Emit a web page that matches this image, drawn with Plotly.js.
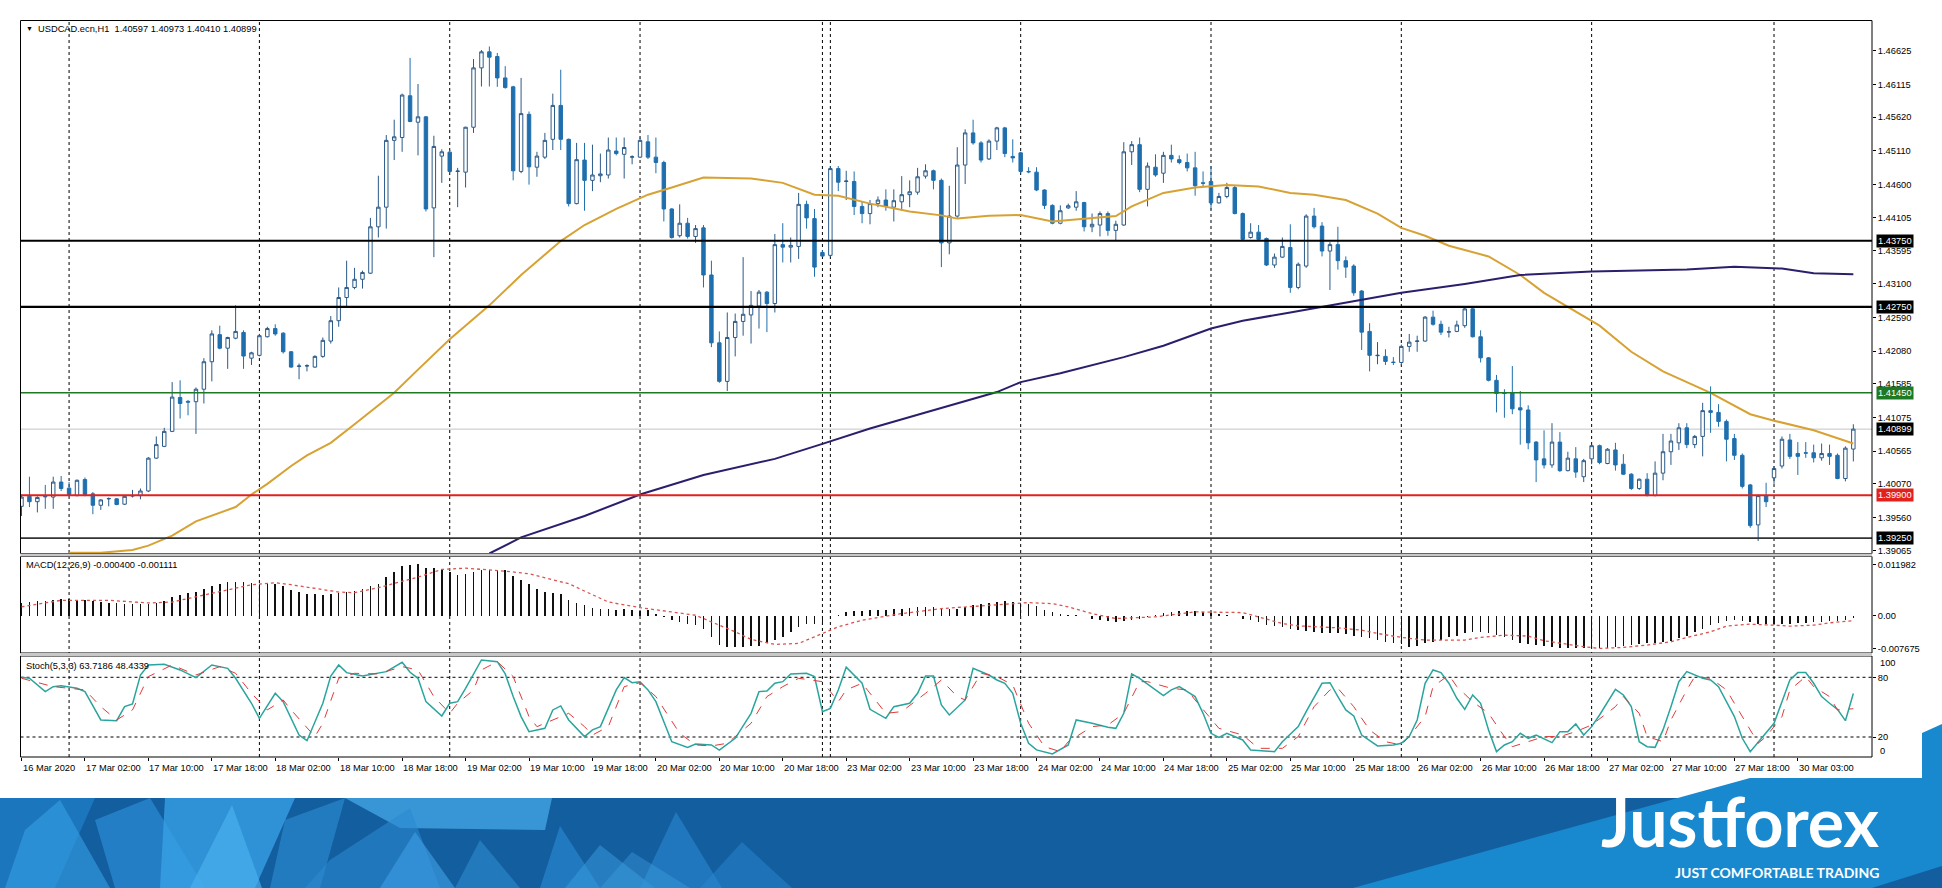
<!DOCTYPE html>
<html><head><meta charset="utf-8">
<script src="https://cdn.plot.ly/plotly-3.0.1.min.js"></script>
<style>html,body{margin:0;padding:0;background:#fff;}#chart{width:1942px;height:888px;}</style>
</head><body><div id="chart"></div>
<script>
// ---------------- DATA ----------------
const symbolHeader = "USDCAD.ecn,H1  1.40597 1.40973 1.40410 1.40899";
const timeLabels = ["16 Mar 2020","17 Mar 02:00","17 Mar 10:00","17 Mar 18:00","18 Mar 02:00","18 Mar 10:00","18 Mar 18:00","19 Mar 02:00","19 Mar 10:00","19 Mar 18:00","20 Mar 02:00","20 Mar 10:00","20 Mar 18:00","23 Mar 02:00","23 Mar 10:00","23 Mar 18:00","24 Mar 02:00","24 Mar 10:00","24 Mar 18:00","25 Mar 02:00","25 Mar 10:00","25 Mar 18:00","26 Mar 02:00","26 Mar 10:00","26 Mar 18:00","27 Mar 02:00","27 Mar 10:00","27 Mar 18:00","30 Mar 03:00"];
const labelStep = 8;
const daySepIdx = [6,30,54,78,101,102,126,150,174,198,221];

const open = [
1.39731,1.39882,1.39801,1.39882,1.39871,1.40098,1.40006,1.39893,1.40136,1.39920,
1.39747,1.39844,1.39844,1.39763,1.39887,1.39893,1.39963,1.40460,1.40638,1.40865,
1.41378,1.41319,1.41314,1.41503,1.41919,1.42329,1.42124,1.42275,1.42362,1.41973,
1.42016,1.42297,1.42421,1.42351,1.42070,1.41848,1.41854,1.41838,1.42000,1.42232,
1.42540,1.42891,1.43043,1.43167,1.43259,1.43961,1.44258,1.45269,1.45312,1.45944,
1.45544,1.45625,1.44247,1.45031,1.45091,1.44799,1.44788,1.45468,1.46366,1.46609,
1.46538,1.46214,1.46079,1.44799,1.45663,1.44863,1.45015,1.45285,1.45798,1.45285,
1.44312,1.44971,1.44664,1.44734,1.44745,1.45107,1.45058,1.45015,1.45015,1.45247,
1.45015,1.44934,1.44231,1.43826,1.44015,1.43815,1.43945,1.43232,1.42205,1.41622,
1.42286,1.42529,1.42627,1.42762,1.42972,1.42800,1.43691,1.43653,1.43664,1.44301,
1.44085,1.43572,1.43529,1.44842,1.44647,1.44647,1.44269,1.44161,1.44312,1.44366,
1.44258,1.44339,1.44447,1.44485,1.44728,1.44809,1.44664,1.43718,1.44123,1.44896,
1.45382,1.45231,1.44988,1.45258,1.45458,1.45026,1.45080,1.44799,1.44788,1.44518,
1.44285,1.44015,1.44247,1.44258,1.44328,1.43961,1.43988,1.44161,1.43907,1.43988,
1.45096,1.45204,1.44528,1.44863,1.44772,1.45042,1.44977,1.44934,1.44853,1.44626,
1.44647,1.44323,1.44420,1.44555,1.44161,1.43799,1.43880,1.43783,1.43383,1.43502,
1.43648,1.43043,1.43367,1.44123,1.43972,1.43594,1.43691,1.43448,1.43367,1.42989,
1.42378,1.42011,1.42000,1.41913,1.41908,1.42151,1.42227,1.42232,1.42594,1.42486,
1.42367,1.42378,1.42465,1.42719,1.42297,1.41978,1.41638,1.41443,1.41449,1.41222,
1.41189,1.40703,1.40449,1.40357,1.40703,1.40271,1.40449,1.40179,1.40449,1.40649,
1.40379,1.40584,1.40368,1.40217,1.40001,1.40141,1.39893,1.40233,1.40557,1.40692,
1.40919,1.40665,1.40789,1.41179,1.41152,1.41016,1.40757,1.40503,1.40055,1.39450,
1.39893,1.40163,1.40341,1.40735,1.40531,1.40541,1.40541,1.40465,1.40531,1.40503,
1.40152,1.40597];
const high = [
1.39909,1.40179,1.39882,1.40055,1.40179,1.40190,1.40098,1.40136,1.40168,1.39947,
1.39838,1.39865,1.39855,1.39893,1.39979,1.40001,1.40476,1.40789,1.40919,1.41611,
1.41638,1.41341,1.41530,1.41973,1.42394,1.42465,1.42297,1.42772,1.42394,1.42070,
1.42340,1.42448,1.42486,1.42367,1.42081,1.41892,1.41881,1.42016,1.42286,1.42610,
1.43043,1.43448,1.43340,1.43297,1.44096,1.44734,1.45350,1.45582,1.45976,1.46517,
1.46122,1.45636,1.45339,1.45134,1.45123,1.44853,1.45474,1.46501,1.46636,1.46690,
1.46592,1.46392,1.46095,1.46214,1.45706,1.45096,1.45382,1.45976,1.46338,1.45296,
1.45231,1.45231,1.45204,1.45069,1.45312,1.45312,1.45312,1.45042,1.45312,1.45350,
1.45312,1.44961,1.44242,1.44301,1.44096,1.43988,1.43988,1.43448,1.42378,1.42665,
1.42648,1.43502,1.42989,1.43005,1.42989,1.43853,1.44015,1.43799,1.44474,1.44356,
1.44231,1.43610,1.44880,1.44880,1.44809,1.44799,1.44339,1.44366,1.44420,1.44528,
1.44528,1.44728,1.44664,1.44853,1.44907,1.44826,1.44691,1.44582,1.45166,1.45436,
1.45582,1.45258,1.45285,1.45474,1.45474,1.45285,1.45096,1.44863,1.44863,1.44528,
1.44301,1.44285,1.44312,1.44501,1.44339,1.44161,1.44193,1.44193,1.44053,1.45242,
1.45258,1.45312,1.44934,1.45058,1.45096,1.45204,1.45042,1.45069,1.45096,1.44799,
1.44880,1.44474,1.44626,1.44582,1.44177,1.44015,1.43988,1.43799,1.43556,1.43799,
1.43999,1.43421,1.44150,1.44247,1.44031,1.43729,1.43961,1.43513,1.43394,1.43005,
1.42502,1.42216,1.42108,1.41989,1.42178,1.42340,1.42313,1.42610,1.42692,1.42540,
1.42448,1.42540,1.42756,1.42746,1.42394,1.41989,1.41719,1.41503,1.41854,1.41476,
1.41260,1.40719,1.40881,1.40989,1.40854,1.40557,1.40627,1.40449,1.40665,1.40665,
1.40611,1.40692,1.40520,1.40233,1.40152,1.40233,1.40411,1.40827,1.40827,1.40989,
1.40989,1.40811,1.41297,1.41546,1.41276,1.41044,1.40827,1.40531,1.40071,1.39909,
1.40087,1.40341,1.40789,1.40827,1.40703,1.40703,1.40665,1.40681,1.40665,1.40531,
1.40638,1.40973];
const low = [
1.39585,1.39720,1.39639,1.39693,1.39693,1.39963,1.39882,1.39882,1.39882,1.39612,
1.39677,1.39731,1.39747,1.39752,1.39865,1.39838,1.39947,1.40449,1.40627,1.40854,
1.41060,1.41108,1.40827,1.41287,1.41622,1.42108,1.41811,1.42259,1.41811,1.41870,
1.42000,1.42286,1.42313,1.42043,1.41827,1.41654,1.41773,1.41827,1.41978,1.42194,
1.42448,1.42735,1.43016,1.43026,1.43248,1.43799,1.43934,1.44971,1.45096,1.45544,
1.45042,1.44193,1.43502,1.44626,1.44772,1.44258,1.44555,1.45382,1.46084,1.46084,
1.46079,1.46052,1.44664,1.44772,1.44599,1.44718,1.44988,1.45123,1.45123,1.44269,
1.44301,1.44204,1.44501,1.44636,1.44691,1.45042,1.44691,1.44907,1.45004,1.44988,
1.44772,1.44042,1.43783,1.43799,1.43783,1.43718,1.43043,1.42140,1.41600,1.41476,
1.42000,1.42313,1.42194,1.42421,1.42367,1.42665,1.43421,1.43421,1.43475,1.43934,
1.43205,1.43502,1.43502,1.44501,1.44366,1.44139,1.44015,1.43999,1.44258,1.44204,
1.44042,1.44204,1.44258,1.44447,1.44691,1.44528,1.43351,1.43545,1.44096,1.44609,
1.45204,1.44934,1.44971,1.45123,1.45015,1.44934,1.44772,1.44772,1.44501,1.44231,
1.43999,1.43999,1.44231,1.44204,1.43891,1.43880,1.43815,1.43826,1.43761,1.43977,
1.44896,1.44485,1.44269,1.44718,1.44626,1.44934,1.44907,1.44799,1.44431,1.44572,
1.44215,1.44312,1.44393,1.44150,1.43761,1.43783,1.43761,1.43367,1.43340,1.43491,
1.42962,1.43016,1.43340,1.43934,1.43513,1.43005,1.43313,1.43188,1.42918,1.42097,
1.41773,1.41881,1.41870,1.41870,1.41870,1.42070,1.42070,1.42221,1.42465,1.42324,
1.42286,1.42367,1.42432,1.42286,1.41908,1.41622,1.41152,1.41071,1.41125,1.40665,
1.40595,1.40098,1.40303,1.40314,1.40249,1.40260,1.40163,1.40098,1.40368,1.40368,
1.40368,1.40271,1.40206,1.39979,1.39979,1.39882,1.39882,1.40125,1.40357,1.40584,
1.40611,1.40611,1.40487,1.40843,1.40935,1.40411,1.40433,1.40001,1.39406,1.39206,
1.39720,1.40071,1.40303,1.40449,1.40206,1.40465,1.40395,1.40422,1.40357,1.40141,
1.40109,1.40410];
const close = [
1.39871,1.39801,1.39865,1.39876,1.40098,1.40001,1.39909,1.40125,1.39909,1.39747,
1.39828,1.39849,1.39758,1.39882,1.39893,1.39963,1.40460,1.40665,1.40865,1.41384,
1.41287,1.41308,1.41503,1.41919,1.42340,1.42124,1.42286,1.42378,1.42005,1.42054,
1.42313,1.42421,1.42340,1.42070,1.41838,1.41854,1.41859,1.42000,1.42243,1.42540,
1.42891,1.43043,1.43167,1.43270,1.43961,1.44258,1.45269,1.45323,1.45955,1.45555,
1.45625,1.44231,1.45177,1.45096,1.44799,1.44804,1.45468,1.46366,1.46609,1.46528,
1.46214,1.46068,1.44809,1.45674,1.44869,1.45031,1.45269,1.45798,1.45285,1.44312,
1.44977,1.44664,1.44745,1.44761,1.45123,1.45069,1.45161,1.45020,1.45269,1.45015,
1.44934,1.44231,1.43799,1.44015,1.43815,1.43934,1.43232,1.42205,1.41622,1.42286,
1.42529,1.42637,1.42772,1.42972,1.42800,1.43691,1.43653,1.43680,1.44301,1.44096,
1.43351,1.43518,1.44842,1.44636,1.44653,1.44269,1.44161,1.44312,1.44366,1.44269,
1.44356,1.44447,1.44491,1.44718,1.44809,1.44664,1.43718,1.44123,1.44896,1.45382,
1.45231,1.44971,1.45258,1.45458,1.45069,1.45004,1.44799,1.44793,1.44518,1.44285,
1.44015,1.44204,1.44280,1.44339,1.43961,1.43999,1.44161,1.43907,1.43999,1.45096,
1.45204,1.44528,1.44880,1.44745,1.45042,1.44988,1.44934,1.44853,1.44582,1.44620,
1.44323,1.44420,1.44555,1.44161,1.43772,1.43880,1.43772,1.43383,1.43502,1.43664,
1.43043,1.43394,1.44123,1.43961,1.43594,1.43691,1.43448,1.43351,1.42962,1.42367,
1.42016,1.42016,1.41924,1.41908,1.42151,1.42216,1.42232,1.42594,1.42486,1.42367,
1.42373,1.42475,1.42719,1.42297,1.41978,1.41638,1.41438,1.41438,1.41206,1.41189,
1.40692,1.40433,1.40357,1.40703,1.40271,1.40460,1.40249,1.40422,1.40649,1.40395,
1.40595,1.40357,1.40217,1.40001,1.40141,1.39893,1.40233,1.40557,1.40719,1.40919,
1.40665,1.40789,1.41179,1.41152,1.41016,1.40746,1.40503,1.40033,1.39439,1.39893,
1.39801,1.40303,1.40746,1.40487,1.40487,1.40536,1.40465,1.40531,1.40487,1.40152,
1.40611,1.40899];

// Moving averages (at these bar positions)
const maFastIdx = [6,10,14,16,19,22,27,29,31,34,36,39,42,47,50,54,59,63,68,71,75,79,82,86,92,96,100,103,107,112,116,118,122,126,130,135,138,140,144,148,152,156,160,163,167,171,174,177,180,185,189,192,195,199,203,207,213,218,221,226,231];
const maFastVal = [1.39030,1.39028,1.39071,1.39136,1.39288,1.39504,1.39720,1.39909,1.40071,1.40341,1.40503,1.40692,1.40973,1.41449,1.41800,1.42259,1.42772,1.43232,1.43745,1.43988,1.44231,1.44447,1.44555,1.44707,1.44691,1.44626,1.44447,1.44431,1.44312,1.44193,1.44134,1.44085,1.44128,1.44139,1.44042,1.44096,1.44123,1.44269,1.44474,1.44555,1.44593,1.44572,1.44474,1.44447,1.44366,1.44161,1.43945,1.43826,1.43675,1.43513,1.43232,1.42962,1.42746,1.42465,1.42070,1.41773,1.41449,1.41125,1.41027,1.40881,1.40681];
const maSlowIdx = [59,63,71,78,86,95,101,107,114,120,123,126,131,139,144,150,154,160,165,174,182,189,198,210,216,222,226,231];
const maSlowVal = [1.39017,1.39261,1.39585,1.39909,1.40206,1.40449,1.40676,1.40909,1.41152,1.41352,1.41460,1.41611,1.41746,1.41989,1.42162,1.42421,1.42540,1.42665,1.42772,1.42962,1.43097,1.43232,1.43286,1.43313,1.43356,1.43329,1.43259,1.43243];

// Horizontal levels
const levelPrices = [1.43750, 1.42750, 1.41450, 1.39900, 1.39250];
const lastPrice = 1.40899;
const priceTicks = [1.46625,1.46115,1.45620,1.45110,1.44600,1.44105,1.43595,1.43100,1.42590,1.42080,1.41585,1.41075,1.40565,1.40070,1.39560,1.39065];

// MACD(12,26,9)
const macdHist = [
0.00309,0.00324,0.00340,0.00355,0.00379,0.00386,0.00386,0.00379,0.00363,0.00348,
0.00324,0.00309,0.00301,0.00286,0.00270,0.00270,0.00286,0.00309,0.00348,0.00440,
0.00494,0.00533,0.00564,0.00626,0.00703,0.00742,0.00780,0.00796,0.00788,0.00757,
0.00749,0.00742,0.00734,0.00688,0.00610,0.00564,0.00518,0.00502,0.00494,0.00510,
0.00533,0.00564,0.00579,0.00626,0.00688,0.00749,0.00904,0.01020,0.01160,0.01190,
0.01198,0.01112,0.01112,0.01089,0.01012,0.00958,0.00966,0.01020,0.01058,0.01074,
0.01074,0.01058,0.00919,0.00842,0.00734,0.00626,0.00556,0.00533,0.00510,0.00363,
0.00301,0.00247,0.00185,0.00155,0.00155,0.00147,0.00155,0.00131,0.00116,0.00131,
0.00054,-0.00020,-0.00100,-0.00139,-0.00178,-0.00216,-0.00294,-0.00487,-0.00680,-0.00718,
-0.00734,-0.00734,-0.00695,-0.00695,-0.00641,-0.00564,-0.00487,-0.00371,-0.00255,-0.00193,
-0.00178,-0.00150,-0.00080,0.00010,0.00093,0.00108,0.00108,0.00131,0.00131,0.00147,
0.00155,0.00170,0.00193,0.00209,0.00209,0.00209,0.00170,0.00170,0.00170,0.00209,
0.00247,0.00286,0.00309,0.00324,0.00340,0.00324,0.00309,0.00270,0.00224,0.00147,
0.00093,0.00054,0.00010,0.00015,0.00005,-0.00062,-0.00100,-0.00116,-0.00139,-0.00116,
-0.00100,-0.00062,-0.00023,0.00031,0.00070,0.00093,0.00108,0.00108,0.00108,0.00093,
0.00070,0.00054,0.00031,0.00005,-0.00062,-0.00100,-0.00139,-0.00216,-0.00239,-0.00255,
-0.00294,-0.00332,-0.00350,-0.00371,-0.00409,-0.00409,-0.00409,-0.00425,-0.00471,-0.00502,
-0.00525,-0.00564,-0.00603,-0.00641,-0.00664,-0.00718,-0.00703,-0.00641,-0.00603,-0.00564,
-0.00502,-0.00471,-0.00409,-0.00371,-0.00371,-0.00409,-0.00448,-0.00502,-0.00564,-0.00626,
-0.00657,-0.00680,-0.00703,-0.00734,-0.00742,-0.00757,-0.00757,-0.00757,-0.00757,-0.00757,
-0.00742,-0.00718,-0.00703,-0.00680,-0.00657,-0.00641,-0.00626,-0.00603,-0.00579,-0.00525,
-0.00471,-0.00371,-0.00294,-0.00216,-0.00162,-0.00116,-0.00100,-0.00116,-0.00139,-0.00178,
-0.00193,-0.00193,-0.00178,-0.00178,-0.00162,-0.00162,-0.00139,-0.00139,-0.00116,-0.00116,
-0.00100,-0.00040];
const macdSigIdx = [0,5,11,16,19,24,29,32,34,40,42,45,50,53,56,61,64,69,74,78,79,85,90,92,95,98,100,103,106,111,116,122,127,130,132,135,138,143,148,154,156,159,161,166,169,171,174,177,182,184,187,190,192,195,197,199,202,205,208,210,213,215,218,221,223,226,228,231];
const macdSigVal = [0.00209,0.00363,0.00363,0.00301,0.00324,0.00533,0.00726,0.00773,0.00726,0.00556,0.00541,0.00657,0.00904,0.01082,0.01112,0.01043,0.00981,0.00749,0.00324,0.00193,0.00170,0.00015,-0.00371,-0.00548,-0.00664,-0.00641,-0.00487,-0.00255,-0.00100,0.00054,0.00170,0.00247,0.00309,0.00286,0.00209,0.00054,-0.00062,-0.00023,0.00093,0.00077,-0.00023,-0.00178,-0.00232,-0.00278,-0.00332,-0.00409,-0.00502,-0.00564,-0.00564,-0.00502,-0.00448,-0.00471,-0.00579,-0.00664,-0.00718,-0.00757,-0.00734,-0.00680,-0.00603,-0.00502,-0.00371,-0.00239,-0.00193,-0.00216,-0.00239,-0.00216,-0.00162,-0.00111];
const macdTicks = [0.011982, 0, -0.007675];
const macdTickText = ["0.011982","0.00","-0.007675"];

// Stochastic(5,3,3)
const stochMainIdx = [0,1,3,4,5,7,8,10,12,13,14,15,16,18,20,22,24,26,27,29,30,32,33,35,36,38,39,40,41,43,46,47,48,49,50,51,53,54,55,56,58,60,61,62,63,64,66,67,68,69,71,72,73,75,76,77,78,79,80,82,84,85,87,88,90,92,93,94,95,96,97,99,100,101,102,103,104,106,107,109,110,112,113,114,115,116,117,119,120,122,123,124,125,126,127,128,130,132,133,135,137,138,139,140,141,144,145,146,148,149,150,151,152,154,155,158,159,161,162,164,165,166,167,168,169,171,173,174,175,176,177,178,179,180,181,182,183,184,185,186,187,188,189,190,191,193,194,195,196,197,198,199,201,202,203,204,205,206,207,208,209,210,211,212,213,214,216,217,218,220,221,222,223,224,225,226,227,228,229,230,231];
const stochMainVal = [80.0,79.0,65.6,70.6,71.6,68.9,65.6,37.1,36.4,50.5,53.2,82.3,92.4,93.1,87.4,79.7,92.4,89.0,79.0,53.9,38.8,63.9,55.5,22.0,16.3,53.9,81.3,92.4,84.7,81.3,85.7,90.7,95.1,85.0,79.0,55.5,41.1,53.9,55.5,68.9,97.4,95.7,83.4,60.6,40.5,25.4,28.7,47.2,51.2,37.1,20.4,27.1,30.4,67.3,79.7,74.6,75.6,67.3,55.5,15.3,9.6,13.0,12.0,6.9,18.7,43.8,65.6,66.3,74.0,75.6,83.4,84.0,80.7,45.5,48.8,67.3,90.1,74.0,47.8,38.8,50.5,53.9,63.9,81.3,81.3,52.2,42.1,57.2,89.0,82.3,77.3,74.0,63.9,33.8,13.7,7.0,3.0,12.0,37.1,33.8,29.7,28.7,43.8,83.4,79.0,61.6,67.3,70.6,60.6,43.8,23.7,19.7,23.7,17.0,7.0,5.3,15.3,30.4,45.5,74.0,74.6,60.6,47.2,41.1,22.0,11.0,12.0,13.7,20.4,37.1,74.0,87.4,84.7,74.0,58.9,47.8,62.2,53.9,27.1,5.3,12.0,15.3,23.7,18.7,22.0,14.3,25.4,25.4,33.1,22.0,30.4,42.1,67.9,62.2,50.5,15.3,10.3,9.6,27.1,50.5,75.6,85.7,82.3,79.0,77.3,70.6,40.5,18.7,5.3,23.7,33.8,55.5,77.3,84.7,84.7,74.0,60.6,53.9,47.8,36.4,63.7186];
const stochSigIdx = [0,4,8,10,12,14,16,19,22,25,27,29,31,33,34,37,38,40,42,45,48,50,52,54,55,57,58,60,62,64,65,67,69,71,72,74,76,78,80,83,85,87,89,92,94,96,98,101,103,104,106,109,111,114,116,118,119,121,123,125,127,129,131,132,135,137,139,141,142,145,147,148,151,154,156,159,161,163,165,166,168,170,172,174,175,177,178,180,181,183,185,187,188,190,192,194,196,198,201,202,204,205,207,208,210,211,213,215,217,219,220,222,223,225,226,228,229,231];
const stochSigVal = [79.0,70.6,67.3,50.5,37.1,47.2,80.7,92.4,82.3,90.7,84.0,63.9,47.2,57.2,47.2,20.4,33.8,79.0,84.0,83.4,90.7,87.4,60.6,43.8,53.9,67.3,87.4,95.7,80.7,40.5,30.4,37.1,43.8,30.4,22.0,30.4,70.6,74.6,60.6,23.7,12.0,11.0,13.7,33.8,60.6,70.6,79.0,75.6,55.5,67.3,74.0,43.8,45.5,63.9,77.3,60.6,57.2,84.0,80.7,72.3,33.8,10.3,5.3,15.3,30.4,32.1,43.8,75.6,75.6,68.9,67.3,57.2,28.7,22.0,8.6,8.6,20.4,50.5,67.3,68.9,50.5,27.1,15.3,12.0,20.4,40.5,70.6,82.3,70.6,55.5,43.8,20.4,10.3,15.3,20.4,20.4,25.4,32.1,50.5,60.6,43.8,20.4,15.3,37.1,67.3,80.7,79.0,67.3,40.5,13.7,20.4,40.5,67.3,80.7,70.6,60.6,47.2,48.4339];
const stochLevels = [80, 20];

// ---------------- LAYOUT / STYLE ----------------
const W = 1942, H = 888;
const px = x => x / W;
const py = y => 1 - y / H;
const BAR0 = 21.5, BARW = 7.93;          // pixel centre of bar 0 and bar spacing
const PL = 20.5, PR = 1872;              // plot area left / right edge in px
const MAIN = [20.5, 553.5], MACDP = [556.5, 653], STOP = [656, 757];
const xRange = [(PL - BAR0) / BARW, (PR - BAR0) / BARW];
const mainRange = [1.39017, 1.47083];
const macdRange = [-0.008644, 0.013836];
const stochRange = [-0.1, 101.4];
const FONT = "Liberation Sans, Arial, sans-serif";
const FS = 9.3;

const idx = open.map((_, i) => i);
const labelIdx = timeLabels.map((_, k) => k * labelStep);

const traces = [
  {type:'candlestick', x: idx, open, high, low, close, xaxis:'x', yaxis:'y',
   increasing:{line:{color:'#2b5a88', width:1}, fillcolor:'#ffffff'},
   decreasing:{line:{color:'#1f6fae', width:1}, fillcolor:'#1f6fae'},
   whiskerwidth:0, hoverinfo:'skip'},
  {type:'scatter', mode:'lines', x: maFastIdx, y: maFastVal, xaxis:'x', yaxis:'y',
   line:{color:'#d7a233', width:2}, hoverinfo:'skip'},
  {type:'scatter', mode:'lines', x: maSlowIdx, y: maSlowVal, xaxis:'x', yaxis:'y',
   line:{color:'#2c1e6c', width:2}, hoverinfo:'skip'},
  {type:'bar', x: idx, y: macdHist, xaxis:'x', yaxis:'y2', width:0.2,
   marker:{color:'#111111', line:{width:0}}, hoverinfo:'skip'},
  {type:'scatter', mode:'lines', x: macdSigIdx, y: macdSigVal, xaxis:'x', yaxis:'y2',
   line:{color:'#d9534f', width:1.3, dash:'dot'}, hoverinfo:'skip'},
  {type:'scatter', mode:'lines', x: stochMainIdx, y: stochMainVal, xaxis:'x', yaxis:'y3',
   line:{color:'#2aa59d', width:1.5}, hoverinfo:'skip'},
  {type:'scatter', mode:'lines', x: stochSigIdx, y: stochSigVal, xaxis:'x', yaxis:'y3',
   line:{color:'#e03a3a', width:1, dash:'dash'}, hoverinfo:'skip'}
];

const shapes = [];
// day separators
daySepIdx.forEach(d => shapes.push({type:'line', xref:'x', yref:'paper', x0:d, x1:d,
  y0:py(STOP[1]), y1:py(MAIN[0]), line:{color:'#000', width:1, dash:'dot'}, layer:'below'}));
// stochastic levels
stochLevels.forEach(v => shapes.push({type:'line', xref:'paper', yref:'y3', x0:px(PL), x1:px(PR),
  y0:v, y1:v, line:{color:'#000', width:1, dash:'dot'}, layer:'below'}));
// last price line
shapes.push({type:'line', xref:'paper', yref:'y', x0:px(PL), x1:px(PR), y0:lastPrice, y1:lastPrice,
  line:{color:'#c4c4c4', width:1}, layer:'below'});
// level lines
const levelStyle = [
  {color:'#000000', width:2.2, box:'#000000'},
  {color:'#000000', width:2.2, box:'#000000'},
  {color:'#1d7a22', width:1.6, box:'#1d7a22'},
  {color:'#e3211c', width:2, box:'#e3211c'},
  {color:'#333333', width:1.8, box:'#000000'}
];
levelPrices.forEach((p, k) => shapes.push({type:'line', xref:'paper', yref:'y', x0:px(PL), x1:px(PR),
  y0:p, y1:p, line:{color:levelStyle[k].color, width:levelStyle[k].width}}));
// panel borders
[MAIN, MACDP, STOP].forEach(r => shapes.push({type:'rect', xref:'paper', yref:'paper',
  x0:px(PL), x1:px(PR), y0:py(r[1]), y1:py(r[0]), line:{color:'#000', width:1}}));
// separators between panels (grey double line look)
[[553.5,556.5],[653,656]].forEach(r => shapes.push({type:'rect', xref:'paper', yref:'paper',
  x0:px(PL), x1:px(PR), y0:py(r[1]), y1:py(r[0]), fillcolor:'#c8c8c8', line:{width:0}}));

// ---- banner (decoration) ----
const P = (pts) => 'M' + pts.map(p => px(p[0]) + ',' + py(p[1])).join(' L') + ' Z';
const bannerShapes = [
  {pts:[[0,798],[1942,798],[1942,888],[0,888]], fill:'#135e9e', op:1},
  // left shard texture
  {pts:[[0,798],[95,798],[55,888],[0,888]], fill:'#1f7cc4', op:0.8},
  {pts:[[5,888],[25,830],[60,800],[110,888]], fill:'#35a0e6', op:0.6},
  {pts:[[95,820],[150,798],[205,888],[115,888]], fill:'#2a8ad2', op:0.75},
  {pts:[[165,798],[295,798],[255,888],[160,888]], fill:'#3aa4e8', op:0.75},
  {pts:[[190,888],[232,805],[262,888]], fill:'#4cb2f0', op:0.65},
  {pts:[[285,820],[345,798],[320,888],[270,888]], fill:'#2f8fd6', op:0.6},
  {pts:[[345,798],[552,798],[545,830],[400,828]], fill:'#4aaeee', op:0.7},
  {pts:[[330,860],[410,808],[440,888],[305,888]], fill:'#2b88d0', op:0.6},
  {pts:[[380,888],[415,832],[455,888]], fill:'#3c9de2', op:0.65},
  {pts:[[455,888],[480,840],[520,888]], fill:'#3194da', op:0.5},
  {pts:[[540,888],[560,826],[600,888]], fill:'#2c8dd6', op:0.6},
  {pts:[[565,888],[600,845],[655,888]], fill:'#3a9be0', op:0.5},
  {pts:[[640,888],[676,812],[722,888]], fill:'#2b89d2', op:0.6},
  {pts:[[700,888],[742,842],[792,888]], fill:'#2a86cf', op:0.5},
  {pts:[[600,888],[632,852],[690,888]], fill:'#3ea0e2', op:0.4},
  // right light panel
  {pts:[[1750,778],[1922,778],[1922,733],[1942,724],[1942,888],[1353,888]], fill:'#1889cf', op:1},
  {pts:[[1942,866],[1942,888],[1872,888]], fill:'#135e9e', op:1}
];
bannerShapes.forEach(b => shapes.push({type:'path', xref:'paper', yref:'paper', path:P(b.pts),
  fillcolor:b.fill, opacity:b.op, line:{width:0}, layer:'above'}));

const annotations = [];
// header texts
annotations.push({xref:'paper', yref:'paper', x:px(24), y:py(28.5), xanchor:'left', yanchor:'middle',
  text:'▼', showarrow:false, font:{family:FONT, size:7, color:'#000'}});
annotations.push({xref:'paper', yref:'paper', x:px(35.5), y:py(28.5), xanchor:'left', yanchor:'middle',
  text:symbolHeader.replace('  ', '&nbsp;&nbsp;'), showarrow:false, font:{family:FONT, size:FS, color:'#000'}});
annotations.push({xref:'paper', yref:'paper', x:px(24), y:py(565), xanchor:'left', yanchor:'middle',
  text:'MACD(12,26,9) -0.000400 -0.001111', showarrow:false, font:{family:FONT, size:FS, color:'#000'}});
annotations.push({xref:'paper', yref:'paper', x:px(24), y:py(666), xanchor:'left', yanchor:'middle',
  text:'Stoch(5,3,3) 63.7186 48.4339', showarrow:false, font:{family:FONT, size:FS, color:'#000'}});
// time labels
timeLabels.forEach((t, k) => annotations.push({xref:'x', yref:'paper', x:labelIdx[k], y:py(768),
  xanchor:'left', yanchor:'middle', xshift:-1, text:t, showarrow:false,
  font:{family:FONT, size:FS, color:'#000'}}));
// level boxes on price scale
levelPrices.forEach((p, k) => annotations.push({xref:'paper', yref:'y', x:px(PR + 4), y:p,
  xanchor:'left', yanchor:'middle', text:p.toFixed(5), showarrow:false, bgcolor:levelStyle[k].box,
  borderpad:1, font:{family:FONT, size:FS, color:'#fff'}}));
annotations.push({xref:'paper', yref:'y', x:px(PR + 4), y:lastPrice, xanchor:'left', yanchor:'middle',
  text:lastPrice.toFixed(5), showarrow:false, bgcolor:'#000', borderpad:1,
  font:{family:FONT, size:FS, color:'#fff'}});
// stochastic scale end labels
annotations.push({xref:'paper', yref:'paper', x:px(PR + 6), y:py(663), xanchor:'left', yanchor:'middle',
  text:'100', showarrow:false, font:{family:FONT, size:FS, color:'#000'}});
annotations.push({xref:'paper', yref:'paper', x:px(PR + 6), y:py(750.5), xanchor:'left', yanchor:'middle',
  text:'0', showarrow:false, font:{family:FONT, size:FS, color:'#000'}});
// logo (boxes stacked so they do not overlap)
annotations.push({xref:'paper', yref:'paper', x:px(1881), y:py(862), xanchor:'right', yanchor:'bottom',
  text:'Justforex', showarrow:false, borderpad:0,
  font:{family:'Lato, sans-serif', size:68, weight:700, color:'#ffffff'}});
annotations.push({xref:'paper', yref:'paper', x:px(1880), y:py(863), xanchor:'right', yanchor:'top',
  text:'JUST COMFORTABLE TRADING', showarrow:false, borderpad:0,
  font:{family:'Lato, sans-serif', size:14, weight:700, color:'#ffffff'}});

const axisCommon = {showgrid:false, zeroline:false, showline:false, fixedrange:true};
const layout = {
  width: W, height: H, margin:{l:0, r:0, t:0, b:0},
  paper_bgcolor:'#ffffff', plot_bgcolor:'#ffffff', showlegend:false, hovermode:false,
  boxgap: 0.38, bargap: 0,
  font:{family:FONT, size:FS, color:'#000'},
  xaxis: Object.assign({}, axisCommon, {domain:[px(PL), px(PR)], range:xRange, anchor:'y3',
    rangeslider:{visible:false}, showticklabels:false, ticks:'outside', ticklen:3, tickcolor:'#000',
    tickvals: labelIdx}),
  yaxis: Object.assign({}, axisCommon, {domain:[py(MAIN[1]), py(MAIN[0])], range:mainRange, anchor:'x',
    side:'right', tickvals: priceTicks, ticktext: priceTicks.map(v => v.toFixed(5)),
    ticks:'outside', ticklen:3, tickcolor:'#000', tickfont:{family:FONT, size:FS, color:'#000'}}),
  yaxis2: Object.assign({}, axisCommon, {domain:[py(MACDP[1]), py(MACDP[0])], range:macdRange, anchor:'x',
    side:'right', tickvals: macdTicks, ticktext: macdTickText,
    ticks:'outside', ticklen:3, tickcolor:'#000', tickfont:{family:FONT, size:FS, color:'#000'}}),
  yaxis3: Object.assign({}, axisCommon, {domain:[py(STOP[1]), py(STOP[0])], range:stochRange, anchor:'x',
    side:'right', tickvals: stochLevels, ticktext: stochLevels.map(String),
    ticks:'outside', ticklen:3, tickcolor:'#000', tickfont:{family:FONT, size:FS, color:'#000'}}),
  shapes, annotations
};

Plotly.newPlot('chart', traces, layout, {staticPlot:true, displayModeBar:false});
</script></body></html>
